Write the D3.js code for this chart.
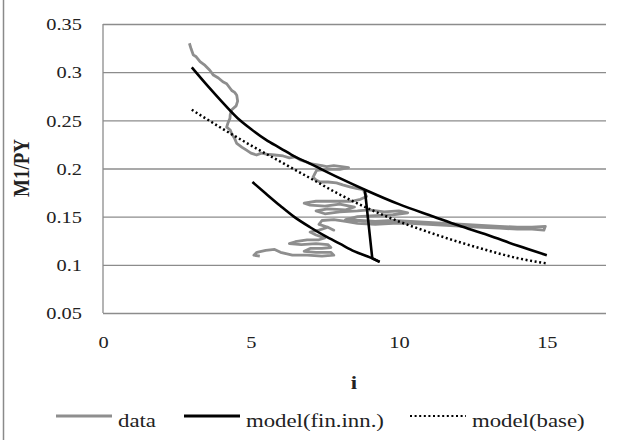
<!DOCTYPE html>
<html>
<head>
<meta charset="utf-8">
<script src="https://cdn.jsdelivr.net/npm/d3@7"></script>
<style>
  body { margin: 0; background: #fff; }
  svg { display: block; }
  text { font-family: "Liberation Serif", "Times New Roman", serif; fill: #222; }
</style>
</head>
<body>
<div id="chart"></div>
<script>
// data
var xTicks = [0, 5, 10, 15];
var yTicks = [0.05, 0.1, 0.15, 0.2, 0.25, 0.3, 0.35];

// observed data (i, M1/PY) - wiggly path
var dataI = [2.92, 2.98, 3.05, 3.15, 3.28, 3.45, 3.61, 3.73, 3.9, 4.05, 4.18, 4.3, 4.35, 4.45, 4.52, 4.55, 4.5, 4.35, 4.3, 4.29, 4.22, 4.18, 4.3, 4.35, 4.45, 4.52, 4.7, 4.85, 5.0, 5.19, 5.35, 5.53, 5.8, 6.09, 6.3, 6.5, 6.66, 6.85, 7.0, 7.2, 7.4, 7.56, 7.8, 8.06, 8.3, 8.0, 7.6, 7.22, 7.15, 7.1, 7.2, 7.33, 7.6, 7.89, 8.1, 8.34, 8.6, 8.8, 8.85, 8.91, 8.7,
  8.4, 7.8, 7.2, 6.8, 7.0, 7.5, 8.0, 8.5, 8.2, 7.6, 7.2, 7.5, 8.0, 8.6, 9.0, 9.5, 10.0, 10.3, 9.8, 9.2, 8.6, 8.2, 8.7, 9.2, 9.8, 10.4, 11, 11.6, 12.2, 12.8, 13.4, 14, 14.5, 14.95, 14.9, 14.5, 14, 13.4, 12.8, 12.2, 11.6, 11, 10.4, 9.8, 9.2, 8.6, 8.2, 7.8, 7.4, 7.3, 7.6, 7.8,
  7.6, 7.3, 7.0, 7.2, 7.5, 7.3, 6.9, 6.5, 6.3, 6.7, 7.2, 7.6, 7.7, 7.4, 7.0, 6.8, 7.2, 7.7, 7.8, 7.4, 6.9, 6.4, 6.0, 5.8, 5.5, 5.2, 5.1, 5.3];
var dataM = [0.330, 0.324, 0.318, 0.316, 0.311, 0.307, 0.302, 0.297, 0.294, 0.290, 0.288, 0.283, 0.281, 0.279, 0.276, 0.270, 0.265, 0.261, 0.256, 0.252, 0.247, 0.243, 0.240, 0.236, 0.231, 0.226, 0.222, 0.219, 0.216, 0.214, 0.216, 0.215, 0.214, 0.213, 0.211, 0.212, 0.209, 0.207, 0.205, 0.204, 0.203, 0.202, 0.203, 0.202, 0.201, 0.199, 0.199, 0.198, 0.194, 0.191, 0.188, 0.186, 0.186, 0.185, 0.183, 0.181, 0.179, 0.178, 0.174, 0.171, 0.168,
  0.166, 0.166, 0.166, 0.164, 0.162, 0.161, 0.163, 0.160, 0.157, 0.158, 0.156, 0.153, 0.155, 0.156, 0.157, 0.155, 0.156, 0.154, 0.152, 0.151, 0.150, 0.147, 0.146, 0.145, 0.146, 0.145, 0.144, 0.143, 0.142, 0.141, 0.140, 0.139, 0.139, 0.140, 0.136, 0.137, 0.137, 0.138, 0.139, 0.140, 0.141, 0.142, 0.143, 0.143, 0.142, 0.143, 0.145, 0.147, 0.146, 0.142, 0.139, 0.136,
  0.139, 0.136, 0.134, 0.131, 0.128, 0.126, 0.126, 0.124, 0.122, 0.121, 0.122, 0.121, 0.118, 0.117, 0.117, 0.114, 0.113, 0.113, 0.110, 0.109, 0.110, 0.110, 0.113, 0.116, 0.115, 0.113, 0.110, 0.109];

// model with financial innovation: upper curve, the drop, and the lower curve
var finUpperI = [3.0, 3.5, 4.0, 4.63, 5.0, 5.5, 6.0, 6.5, 7.0, 7.33, 8.0, 8.85, 10.0, 11.18, 12.0, 13.0, 14.0, 15.0];
var finUpperM = [0.305, 0.287, 0.270, 0.250, 0.241, 0.230, 0.221, 0.212, 0.205, 0.200, 0.190, 0.178, 0.163, 0.150, 0.141, 0.131, 0.120, 0.110];
var finDropI = [8.85, 9.1, 9.35];
var finDropM = [0.178, 0.107, 0.103];
var finLowerI = [5.05, 5.5, 6.0, 6.45, 7.0, 7.5, 8.0, 8.5, 9.0, 9.35];
var finLowerM = [0.186, 0.174, 0.161, 0.150, 0.139, 0.130, 0.122, 0.114, 0.108, 0.103];

// base model
var baseI = [3, 4, 5, 6, 7, 8, 9, 10, 11, 12, 13, 14, 15];
var baseM = [0.261, 0.242, 0.224, 0.207, 0.190, 0.173, 0.158, 0.145, 0.134, 0.124, 0.115, 0.107, 0.1015];

var width = 624, height = 440;
var SX = 1.2; // text in the picture is stretched sideways

var svg = d3.select("#chart").append("svg")
    .attr("width", width)
    .attr("height", height);

// left frame edge
svg.append("line")
    .attr("x1", 3.5).attr("x2", 3.5)
    .attr("y1", 0).attr("y2", height)
    .attr("stroke", "#8a8a8a")
    .attr("stroke-width", 1.5);

var x = d3.scaleLinear().domain([0, 17]).range([103, 606]);
var y = d3.scaleLinear().domain([0.05, 0.35]).range([313, 24]);

// horizontal gridlines
svg.append("g")
    .attr("transform", "translate(103,0)")
    .call(d3.axisLeft(y).tickValues(yTicks).tickSize(-(606 - 103)).tickFormat(""))
    .call(function (g) { g.select(".domain").remove(); })
    .selectAll("line")
    .attr("stroke", "#8c8c8c")
    .attr("stroke-width", 1.3);

// y axis line
svg.append("line")
    .attr("x1", 103).attr("x2", 103)
    .attr("y1", y(0.35)).attr("y2", y(0.05))
    .attr("stroke", "#8c8c8c")
    .attr("stroke-width", 1.3);

// y tick labels
var yAxis = svg.append("g")
    .attr("transform", "translate(103,0)")
    .call(d3.axisLeft(y).tickValues(yTicks).tickSize(0).tickFormat(function (d) { return String(+d.toFixed(2)); }));
yAxis.select(".domain").remove();
yAxis.selectAll("text")
    .attr("x", 0)
    .attr("dy", "0.34em")
    .attr("transform", "translate(-21,0) scale(" + SX + ",1)")
    .style("font-size", "17px")
    .style("font-family", "Liberation Serif")
    .attr("fill", "#2a2a2a");

// x tick labels
var xAxis = svg.append("g")
    .attr("transform", "translate(0,313)")
    .call(d3.axisBottom(x).tickValues(xTicks).tickSize(0));
xAxis.select(".domain").remove();
xAxis.selectAll("text")
    .attr("y", 0)
    .attr("dy", "0")
    .attr("transform", "translate(0,35) scale(" + SX + ",1)")
    .style("font-size", "17px")
    .style("font-family", "Liberation Serif")
    .attr("fill", "#2a2a2a");

// axis titles
svg.append("text")
    .attr("transform", "translate(354,389) scale(" + SX + ",1)")
    .attr("text-anchor", "middle")
    .style("font-size", "19px")
    .style("font-weight", "bold")
    .text("i");

svg.append("text")
    .attr("transform", "translate(29,168) rotate(-90) scale(1," + SX + ")")
    .attr("text-anchor", "middle")
    .style("font-size", "19px")
    .style("font-weight", "bold")
    .text("M1/PY");

var line = d3.line()
    .x(function (d) { return x(d[0]); })
    .y(function (d) { return y(d[1]); });

var smooth = d3.line()
    .x(function (d) { return x(d[0]); })
    .y(function (d) { return y(d[1]); })
    .curve(d3.curveMonotoneX);

// data series
svg.append("path")
    .attr("d", line(d3.zip(dataI, dataM)))
    .attr("fill", "none")
    .attr("stroke", "#8e8e8e")
    .attr("stroke-width", 2.8)
    .attr("stroke-linejoin", "round");

// base model (dotted)
svg.append("path")
    .attr("d", smooth(d3.zip(baseI, baseM)))
    .attr("fill", "none")
    .attr("stroke", "#000")
    .attr("stroke-width", 2.5)
    .attr("stroke-dasharray", "2,2.6");

// model with financial innovation
var finParts = [
    smooth(d3.zip(finUpperI, finUpperM)),
    line(d3.zip(finDropI, finDropM)),
    smooth(d3.zip(finLowerI, finLowerM))
];
svg.selectAll("path.fin")
    .data(finParts)
    .enter()
    .append("path")
    .attr("class", "fin")
    .attr("d", function (d) { return d; })
    .attr("fill", "none")
    .attr("stroke", "#000")
    .attr("stroke-width", 2.6)
    .attr("stroke-linejoin", "round");

// legend
var legendNames = ["data", "model(fin.inn.)", "model(base)"];
var legendX = [56, 184, 410];
var legendStroke = ["#8e8e8e", "#000", "#000"];
var legendDash = [null, null, "2,2.6"];

var lg = svg.append("g");
legendNames.forEach(function (name, k) {
    lg.append("line")
        .attr("x1", legendX[k]).attr("x2", legendX[k] + 56)
        .attr("y1", 416).attr("y2", 416)
        .attr("stroke", legendStroke[k])
        .attr("stroke-width", k === 2 ? 2 : 3)
        .attr("stroke-dasharray", legendDash[k]);
    lg.append("text")
        .attr("transform", "translate(" + (legendX[k] + 62) + ",427) scale(" + SX + ",1)")
        .style("font-size", "19px")
        .text(name);
});
</script>
</body>
</html>
